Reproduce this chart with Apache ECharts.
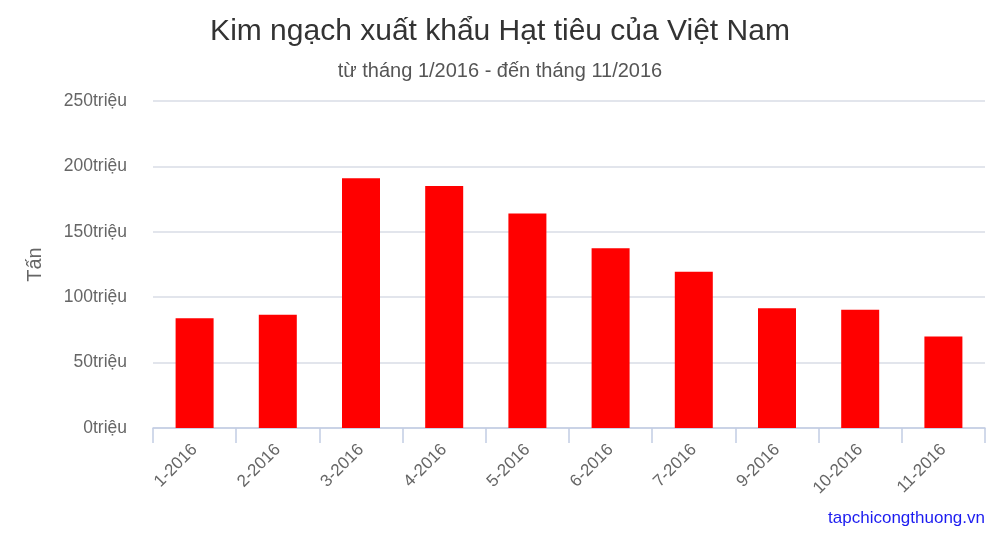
<!DOCTYPE html>
<html>
<head>
<meta charset="utf-8">
<title>Kim ngạch xuất khẩu Hạt tiêu của Việt Nam</title>
<script src="https://cdn.jsdelivr.net/npm/echarts@6/dist/echarts.min.js"></script>
<style>
    html, body { margin: 0; padding: 0; background: #fff; }
    #chart { width: 1000px; height: 533px; }
</style>
</head>
<body>
<div id="chart"></div>
<script>
// du lieu doc tu hinh (trieu)
var months = ['1-2016', '2-2016', '3-2016', '4-2016', '5-2016', '6-2016', '7-2016', '9-2016', '10-2016', '11-2016'];
var values = [84, 86.5, 191, 185, 164, 137.5, 119.5, 91.5, 90.5, 70];
var yTicks = [0, 50, 100, 150, 200, 250];

var myChart = echarts.init(document.getElementById('chart'));

var option = {
    animation: false,
    textStyle: { fontFamily: 'Liberation Sans, Arial, sans-serif' },
    title: {
        text: 'Kim ngạch xuất khẩu Hạt tiêu của Việt Nam',
        subtext: 'từ tháng 1/2016 - đến tháng 11/2016',
        left: 'center',
        top: 12,
        itemGap: 14,
        textStyle: { fontSize: 30, fontWeight: 'normal', color: '#333' },
        subtextStyle: { fontSize: 20, color: '#555' }
    },
    grid: { left: 153, right: 15, top: 101, bottom: 105 },
    xAxis: {
        type: 'category',
        data: months,
        axisLine: { lineStyle: { color: '#c2cde3', width: 1.5 } },
        axisTick: { show: true, length: 15, lineStyle: { color: '#c2cde3', width: 1.5 } },
        axisLabel: { rotate: 45, fontSize: 17, color: '#666', margin: 19 }
    },
    yAxis: {
        type: 'value',
        min: yTicks[0],
        max: yTicks[yTicks.length - 1],
        interval: 50,
        name: 'Tấn',
        nameLocation: 'middle',
        nameGap: 108,
        nameTextStyle: { fontSize: 20, color: '#666' },
        axisLine: { show: false },
        axisTick: { show: false },
        axisLabel: {
            fontSize: 17.5, color: '#666', margin: 26,
            formatter: function (v) { return v + 'triệu'; }
        },
        splitLine: { lineStyle: { color: '#d8dde6', width: 1.5 } }
    },
    series: [
        {
            name: 'Kim ngạch',
            type: 'bar',
            data: values,
            barWidth: 38,
            itemStyle: { color: '#ff0000' }
        }
    ],
    graphic: [
        {
            type: 'text',
            right: 15,
            bottom: 6,
            style: {
                text: 'tapchicongthuong.vn',
                fill: '#1c1cf0',
                fontSize: 17,
                fontFamily: 'Liberation Sans, Arial, sans-serif'
            }
        }
    ]
};

myChart.setOption(option);
</script>
</body>
</html>
